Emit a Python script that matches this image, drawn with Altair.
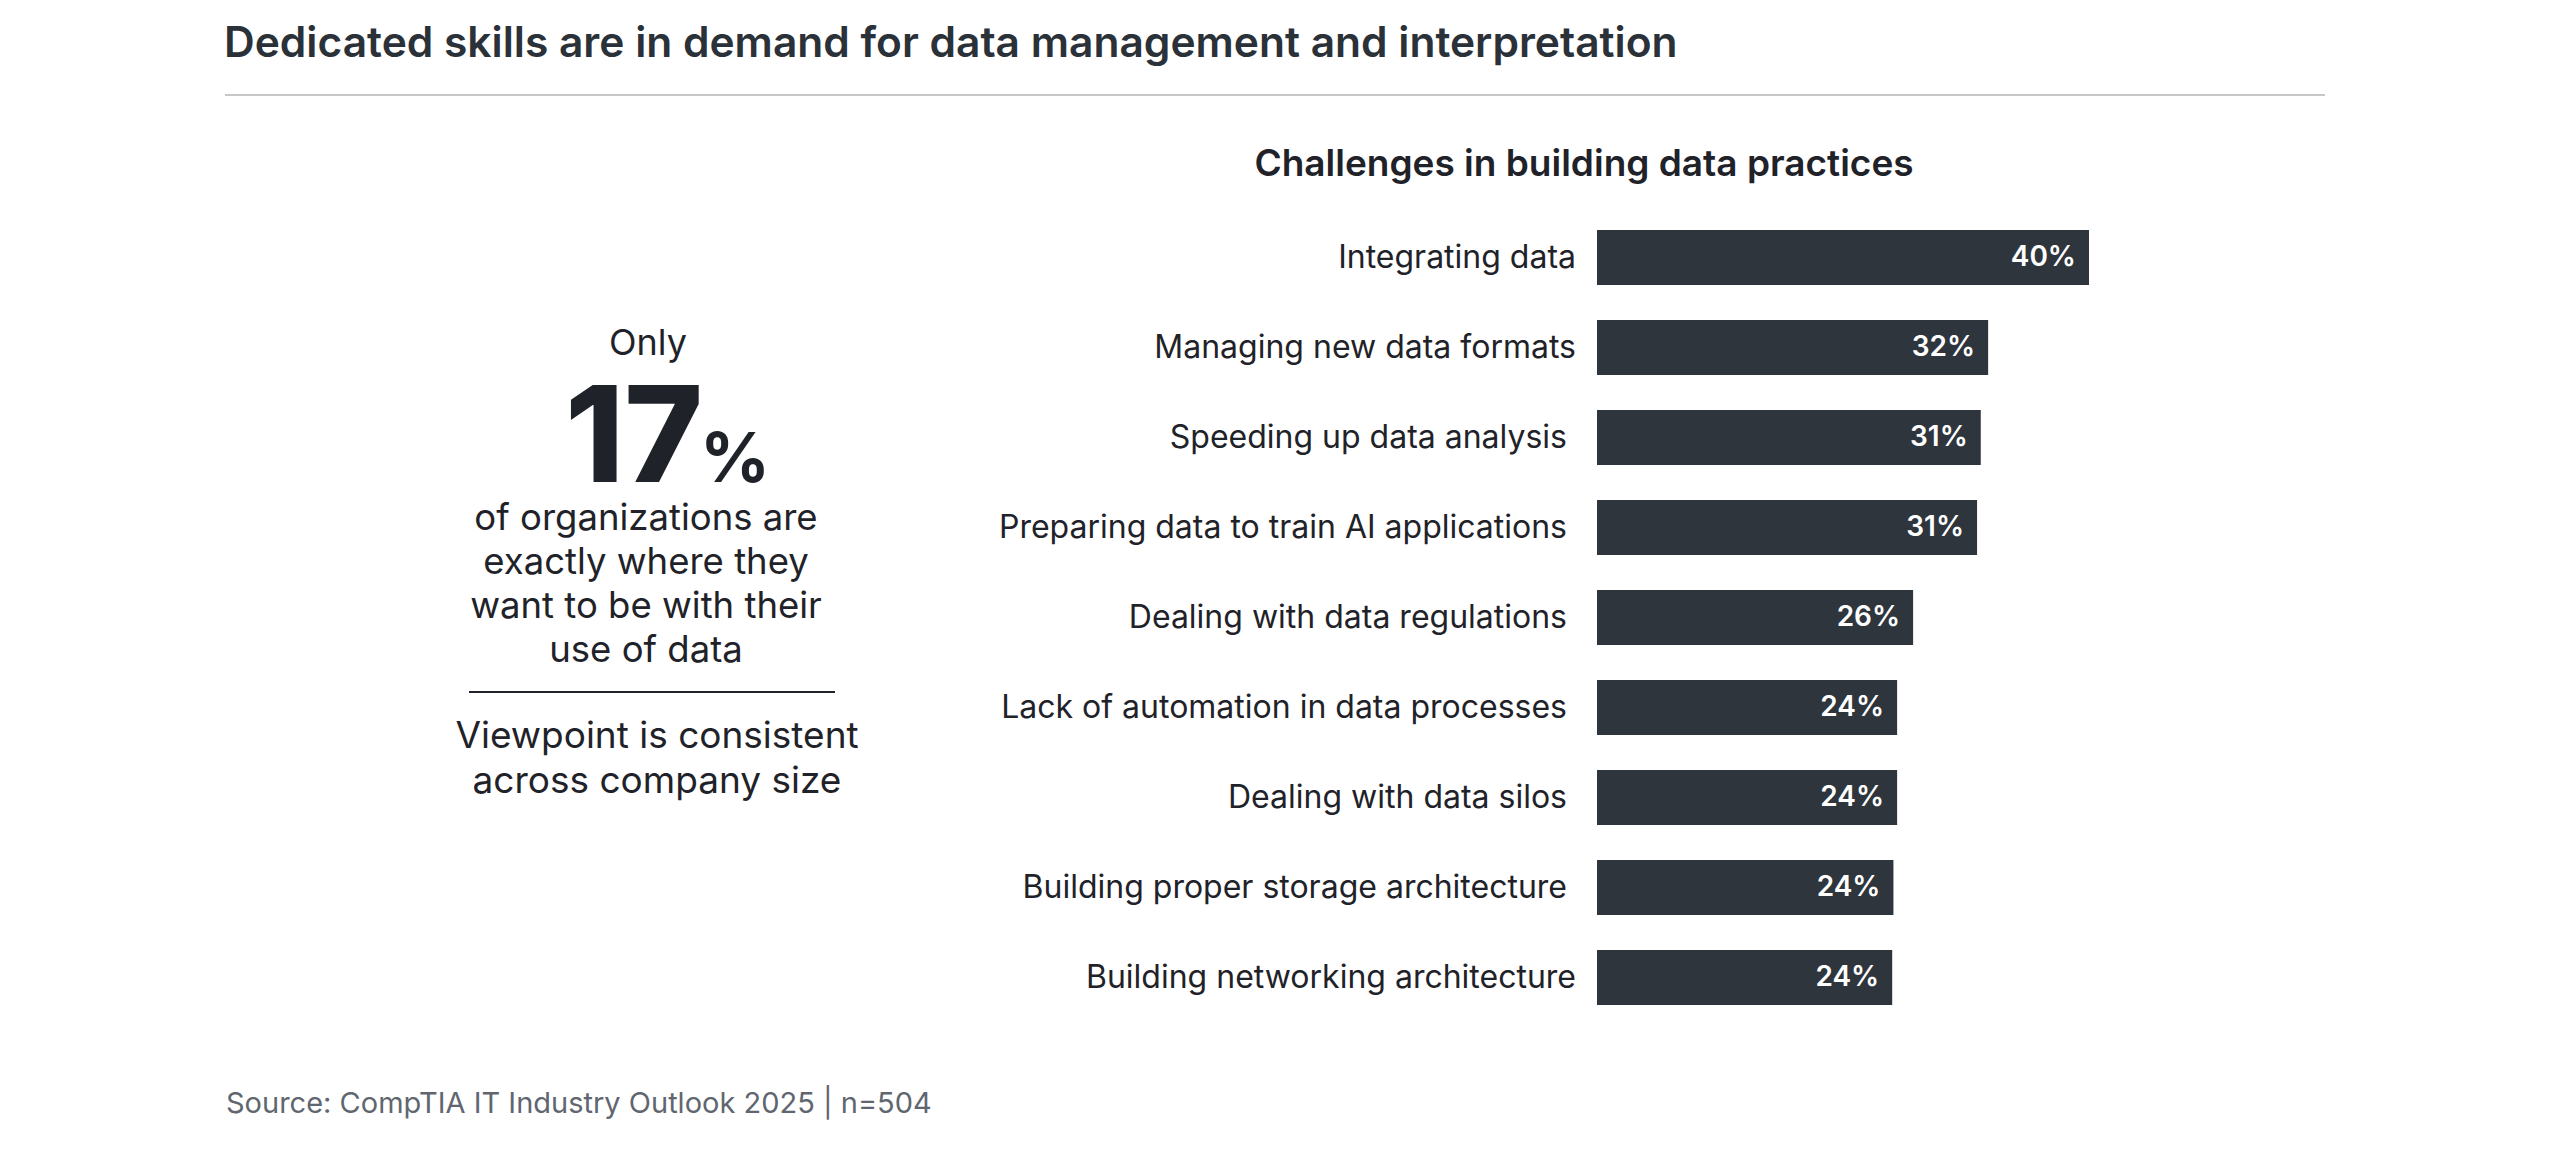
import altair as alt
import pandas as pd

# ---- data ----
# (some labels in the reference carry a trailing space; a zero-width char keeps it from being trimmed)
categories = [
    "Integrating data",
    "Managing new data formats",
    "Speeding up data analysis\u00a0\u200b",
    "Preparing data to train AI applications\u00a0\u200b",
    "Dealing with data regulations\u00a0\u200b",
    "Lack of automation in data processes\u00a0\u200b",
    "Dealing with data silos\u00a0\u200b",
    "Building proper storage architecture\u00a0\u200b",
    "Building networking architecture",
]
values = [40.0, 31.8, 31.2, 30.9, 25.7, 24.4, 24.4, 24.1, 24.0]

title_text = "Dedicated skills are in demand for data management and interpretation"
subtitle_text = "Challenges in building data practices"
source_text = "Source: CompTIA IT Industry Outlook 2025 | n=504"
only_text = "Only"
big_number = "17"
big_unit = "%"
stat_lines = ["of organizations are", "exactly where they", "want to be with their", "use of data"]
note_lines = ["Viewpoint is consistent", "across company size"]

FONT = "Inter"
DARK = "#1f2329"
BAR = "#2e353d"

df = pd.DataFrame({"category": categories, "value": values})
one = pd.DataFrame({"k": [0]})

yscale = alt.Scale(domain=categories, range=[204.5, 1014.5], paddingInner=0.389, paddingOuter=0.1945)
xscale = alt.Scale(domain=[0, 40], range=[1589, 2081], zero=True, nice=False)

base = alt.Chart(df)

bars = base.mark_bar(color=BAR).encode(
    x=alt.X("value:Q", scale=xscale, axis=None),
    y=alt.Y("category:N", sort=categories, scale=yscale, axis=None),
)

vals = base.transform_calculate(pct="datum.value / 100").mark_text(
    align="right", baseline="middle", dx=-13, color="white",
    font=FONT, fontSize=28, fontWeight=600,
).encode(
    x=alt.X("value:Q", scale=xscale, axis=None),
    y=alt.Y("category:N", sort=categories, scale=yscale, axis=None),
    text=alt.Text("pct:Q", format=".0%"),
)

cats = base.mark_text(
    align="right", baseline="middle", color=DARK, font=FONT, fontSize=32,
).encode(
    x=alt.value(1568),
    y=alt.Y("category:N", sort=categories, scale=yscale, axis=None),
    text="category:N",
)


def label(txt, x, y, size, weight=400, align="center", color=DARK, line_height=None, baseline="alphabetic"):
    kw = dict(align=align, baseline=baseline, font=FONT, fontSize=size, fontWeight=weight, color=color)
    if line_height is not None:
        kw["lineHeight"] = line_height
    return alt.Chart(one).mark_text(**kw).encode(
        x=alt.value(x), y=alt.value(y), text=alt.value(txt)
    )


def rule(x1, x2, y, color, width):
    return alt.Chart(one).mark_rule(color=color, strokeWidth=width).encode(
        x=alt.value(x1), x2=alt.value(x2), y=alt.value(y)
    )


layers = [
    label(title_text, 216, 49, 42.5, 600, align="left", color="#2b3138"),
    rule(217, 2317, 87, "#b5b5b5", 1.5),
    label(subtitle_text, 1576, 168, 37, 600, color=DARK),
    bars, vals, cats,
    label(only_text, 640, 347, 36),
    label(big_number, 695, 474, 134, 800, align="right"),
    label(big_unit, 692, 474, 69, 700, align="left"),
    label(stat_lines, 638, 522, 36.5, line_height=44),
    rule(461, 827, 684, DARK, 2),
    label(note_lines, 649, 740, 37, line_height=45),
    label(source_text, 218, 1105, 29, align="left", color="#5f6670"),
]

chart = alt.layer(*layers).properties(
    width=2534, height=1134,
    autosize=alt.AutoSizeParams(type="none"),
    padding=0,
).configure_view(stroke=None)

chart.save("out.html", embed_options={"renderer": "svg", "actions": False})
